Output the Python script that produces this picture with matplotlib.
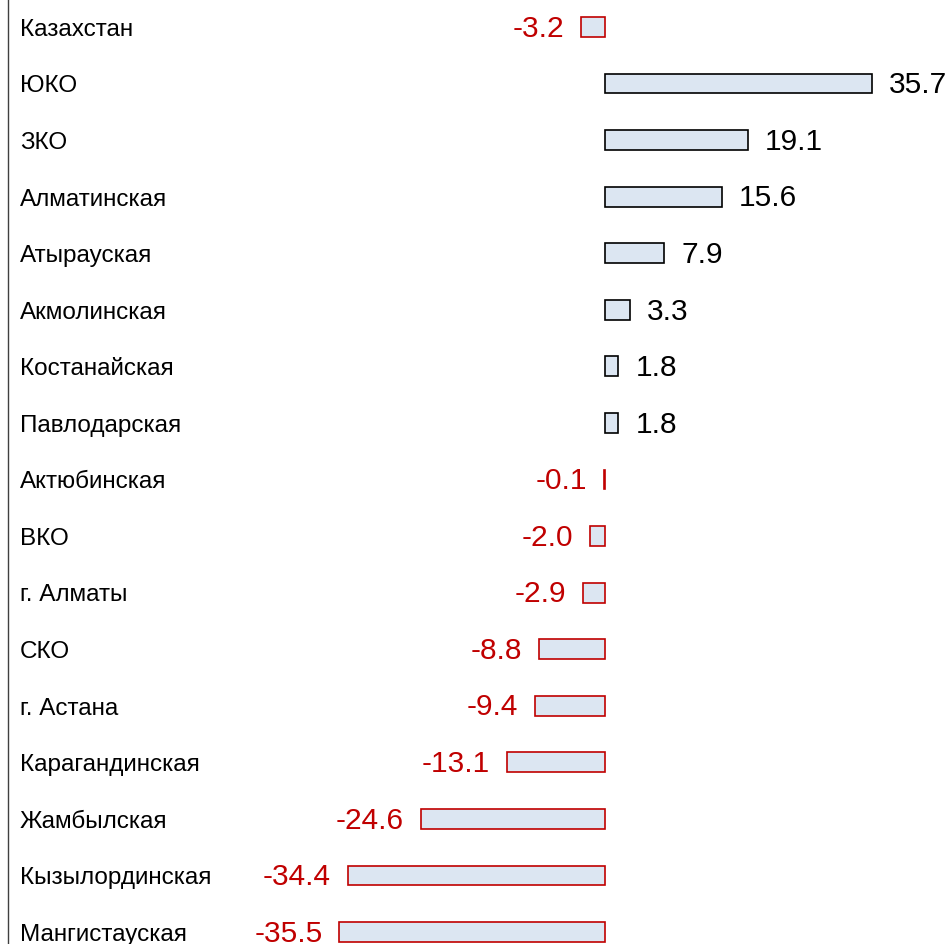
import matplotlib.pyplot as plt
import matplotlib.transforms as mtransforms

regions = ["Казахстан", "ЮКО", "ЗКО", "Алматинская", "Атырауская", "Акмолинская",
           "Костанайская", "Павлодарская", "Актюбинская", "ВКО", "г. Алматы", "СКО",
           "г. Астана", "Карагандинская", "Жамбылская", "Кызылординская", "Мангистауская"]
values = [-3.2, 35.7, 19.1, 15.6, 7.9, 3.3, 1.8, 1.8, -0.1, -2.0, -2.9, -8.8,
          -9.4, -13.1, -24.6, -34.4, -35.5]

red = '#c00000'
fill = '#dce6f2'

fig = plt.figure(figsize=(9.51, 9.44), dpi=100)
ax = fig.add_axes([8 / 951, 0, 1 - 8 / 951, 1])

ypos = list(range(len(regions)))
edge = ['black' if v > 0 else red for v in values]
ax.barh(ypos, values, height=0.35, color=fill, edgecolor=edge, linewidth=1.2)

px = 7.48  # pixels per unit
ax.set_xlim(-(605 - 8) / px, (951 - 605) / px)
ax.set_ylim(16 + (944 - 932) / 56.56, -27 / 56.56)

lab_tr = mtransforms.blended_transform_factory(ax.transAxes, ax.transData)
off = 17 / px
for y, name, v in zip(ypos, regions, values):
    ax.text(12 / 943, y + 0.05, name, transform=lab_tr, ha='left', va='center',
            fontsize=17.5, family='Liberation Sans', color='black')
    if v > 0:
        ax.text(v + off, y + 0.03, f'{v:.1f}', ha='left', va='center',
                fontsize=21.5, family='Liberation Sans', color='black')
    else:
        ax.text(v - off, y + 0.03, f'{v:.1f}', ha='right', va='center',
                fontsize=21.5, family='Liberation Sans', color=red)

for s in ['top', 'right', 'bottom']:
    ax.spines[s].set_visible(False)
ax.spines['left'].set_color('#404040')
ax.spines['left'].set_linewidth(1.0)
ax.set_xticks([])
ax.set_yticks([])

fig.savefig('out.png', dpi=100)
